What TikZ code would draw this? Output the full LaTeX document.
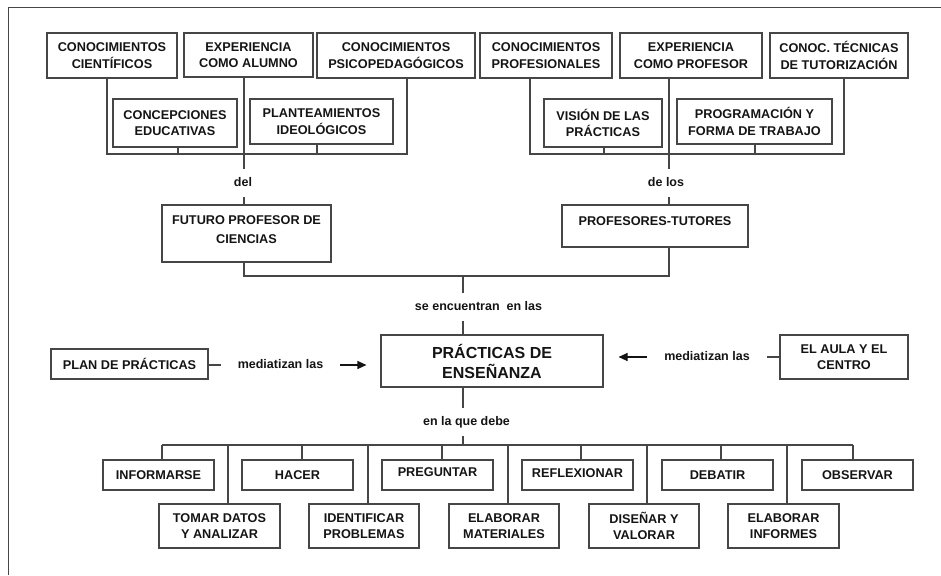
\documentclass[tikz,border=0pt]{standalone}
\usepackage{fontspec}
\setmainfont{Liberation Sans}
\usetikzlibrary{arrows.meta}
\definecolor{ln}{RGB}{70,70,70}
\definecolor{tx}{RGB}{20,20,20}
\newcommand\liftt[2]{\raisebox{#1}[\height][\depth]{\begin{tabular}{@{}c@{}}#2\end{tabular}}}
\begin{document}
\begin{tikzpicture}[x=1pt,y=-1pt,
 box/.style={draw=ln, line width=1.1pt, align=center, inner sep=0pt, text=tx,
   font=\bfseries\fontsize{12.7}{16.5}\selectfont},
 big/.style={box, font=\bfseries\fontsize{16}{20}\selectfont},
 lab/.style={inner xsep=2pt, inner ysep=8pt, text height=9pt, text depth=3pt, text=tx,
   font=\bfseries\fontsize{12.5}{15}\selectfont},
 hlab/.style={lab, inner xsep=17pt},
 con/.style={draw=ln, line width=1.1pt},
 arr/.style={draw=tx, line width=1.1pt, -{Triangle[length=9pt,width=8pt]}}]
\useasboundingbox (0,0) rectangle (941,575);
\draw[ln, line width=1pt] (8,575) -- (8,8) -- (941,8);

% top-left group
\node[box, minimum width=130, minimum height=45] (cc) at (112,55.5) {CONOCIMIENTOS\\CIENTÍFICOS};
\node[box, minimum width=129, minimum height=44] (ea) at (248.5,55) {EXPERIENCIA\\COMO ALUMNO};
\node[box, minimum width=158, minimum height=45] (cp) at (396,55.5) {CONOCIMIENTOS\\PSICOPEDAGÓGICOS};
\node[box, minimum width=124, minimum height=48] (ce) at (175,123) {CONCEPCIONES\\EDUCATIVAS};
\node[box, minimum width=143, minimum height=45] (pi) at (321.5,121.5) {PLANTEAMIENTOS\\IDEOLÓGICOS};
\node[lab] (del) at (243,183) {del};
\node[box, minimum width=169, minimum height=57] (fp) at (246.5,233.5) {\liftt{3pt}{FUTURO PROFESOR DE\\[2.5pt]CIENCIAS}};

\draw[con] (107,0 |- cc.south) -- (107,154) -- (407,154) -- (407,0 |- cp.south);
\draw[con] (178,0 |- ce.south) -- (178,154);
\draw[con] (317,0 |- pi.south) -- (317,154);
\draw[con] (244,0 |- ea.south) -- (244,0 |- del.north);
\draw[con] (244,0 |- del.south) -- (244,0 |- fp.north);

% top-right group
\node[box, minimum width=132, minimum height=45] (cpr) at (546,55.5) {CONOCIMIENTOS\\PROFESIONALES};
\node[box, minimum width=142, minimum height=45] (ep) at (691,55.5) {EXPERIENCIA\\COMO PROFESOR};
\node[box, minimum width=138, minimum height=45] (ct) at (839,55.5) {CONOC. TÉCNICAS\\DE TUTORIZACIÓN};
\node[box, minimum width=118, minimum height=48] (vp) at (603,123) {VISIÓN DE LAS\\PRÁCTICAS};
\node[box, minimum width=155, minimum height=45] (pf) at (754.5,121.5) {PROGRAMACIÓN Y\\FORMA DE TRABAJO};
\node[lab] (delos) at (666,183) {de los};
\node[box, minimum width=186, minimum height=42, text depth=9pt] (pt) at (655,226) {PROFESORES-TUTORES};

\draw[con] (530,0 |- cpr.south) -- (530,154) -- (844,154) -- (844,0 |- ct.south);
\draw[con] (604,0 |- vp.south) -- (604,154);
\draw[con] (755,0 |- pf.south) -- (755,154);
\draw[con] (669,0 |- ep.south) -- (669,0 |- delos.north);
\draw[con] (669,0 |- delos.south) -- (669,0 |- pt.north);

% join
\node[lab] (se) at (478.5,307) {se encuentran~ en las};
\node[big, minimum width=222, minimum height=52] (pe) at (492,361) {PRÁCTICAS DE\\ENSEÑANZA};
\draw[con] (244,0 |- fp.south) -- (244,276) -- (669,276) -- (669,0 |- pt.south);
\draw[con] (463,276) -- (463,0 |- se.north);
\draw[con] (463,0 |- se.south) -- (463,0 |- pe.north);

% mediators
\node[box, minimum width=157, minimum height=30] (plan) at (129.5,364) {PLAN DE PRÁCTICAS};
\node[hlab] (m1) at (280.5,365) {mediatizan las};
\draw[con] (plan.east |- m1) -- (m1.west);
\draw[arr, shorten >=14pt] (m1.east) -- (pe.west |- m1);

\node[box, minimum width=128, minimum height=44] (aula) at (844,357) {EL AULA Y EL\\CENTRO};
\node[hlab] (m2) at (707,357) {mediatizan las};
\draw[con] (aula.west) -- (m2.east);
\draw[arr, shorten >=15pt] (m2.west) -- (pe.east |- m2);

% bottom
\node[lab] (debe) at (466.5,422) {en la que debe};
\draw[con] (463,0 |- pe.south) -- (463,0 |- debe.north);
\draw[con] (463,0 |- debe.south) -- (463,445);
\draw[con] (162,445) -- (853,445);

\node[box, minimum width=111, minimum height=30] (inf) at (158.5,475) {INFORMARSE};
\node[box, minimum width=111, minimum height=30] (hac) at (297.5,475) {HACER};
\node[box, minimum width=111, minimum height=30, text depth=5pt] (pre) at (437.5,475) {PREGUNTAR};
\node[box, minimum width=111, minimum height=30, text depth=3pt] (ref) at (577.5,475) {REFLEXIONAR};
\node[box, minimum width=111, minimum height=30] (deb) at (717.5,475) {DEBATIR};
\node[box, minimum width=111, minimum height=30] (obs) at (857.5,475) {OBSERVAR};

\node[box, minimum width=121, minimum height=44] (tom) at (219.5,526) {TOMAR DATOS\\Y ANALIZAR};
\node[box, minimum width=110, minimum height=44] (ide) at (364,526) {IDENTIFICAR\\PROBLEMAS};
\node[box, minimum width=110, minimum height=44] (ela) at (504,526) {ELABORAR\\MATERIALES};
\node[box, minimum width=110, minimum height=44] (dis) at (644,526) {DISEÑAR Y\\VALORAR};
\node[box, minimum width=111, minimum height=44] (eli) at (783.5,526) {ELABORAR\\INFORMES};

\draw[con] (162,445) -- (162,0 |- inf.north);
\draw[con] (302,445) -- (302,0 |- hac.north);
\draw[con] (442,445) -- (442,0 |- pre.north);
\draw[con] (581,445) -- (581,0 |- ref.north);
\draw[con] (721,445) -- (721,0 |- deb.north);
\draw[con] (853,445) -- (853,0 |- obs.north);
\draw[con] (228,445) -- (228,0 |- tom.north);
\draw[con] (368,445) -- (368,0 |- ide.north);
\draw[con] (508,445) -- (508,0 |- ela.north);
\draw[con] (647,445) -- (647,0 |- dis.north);
\draw[con] (787,445) -- (787,0 |- eli.north);
\end{tikzpicture}
\end{document}
